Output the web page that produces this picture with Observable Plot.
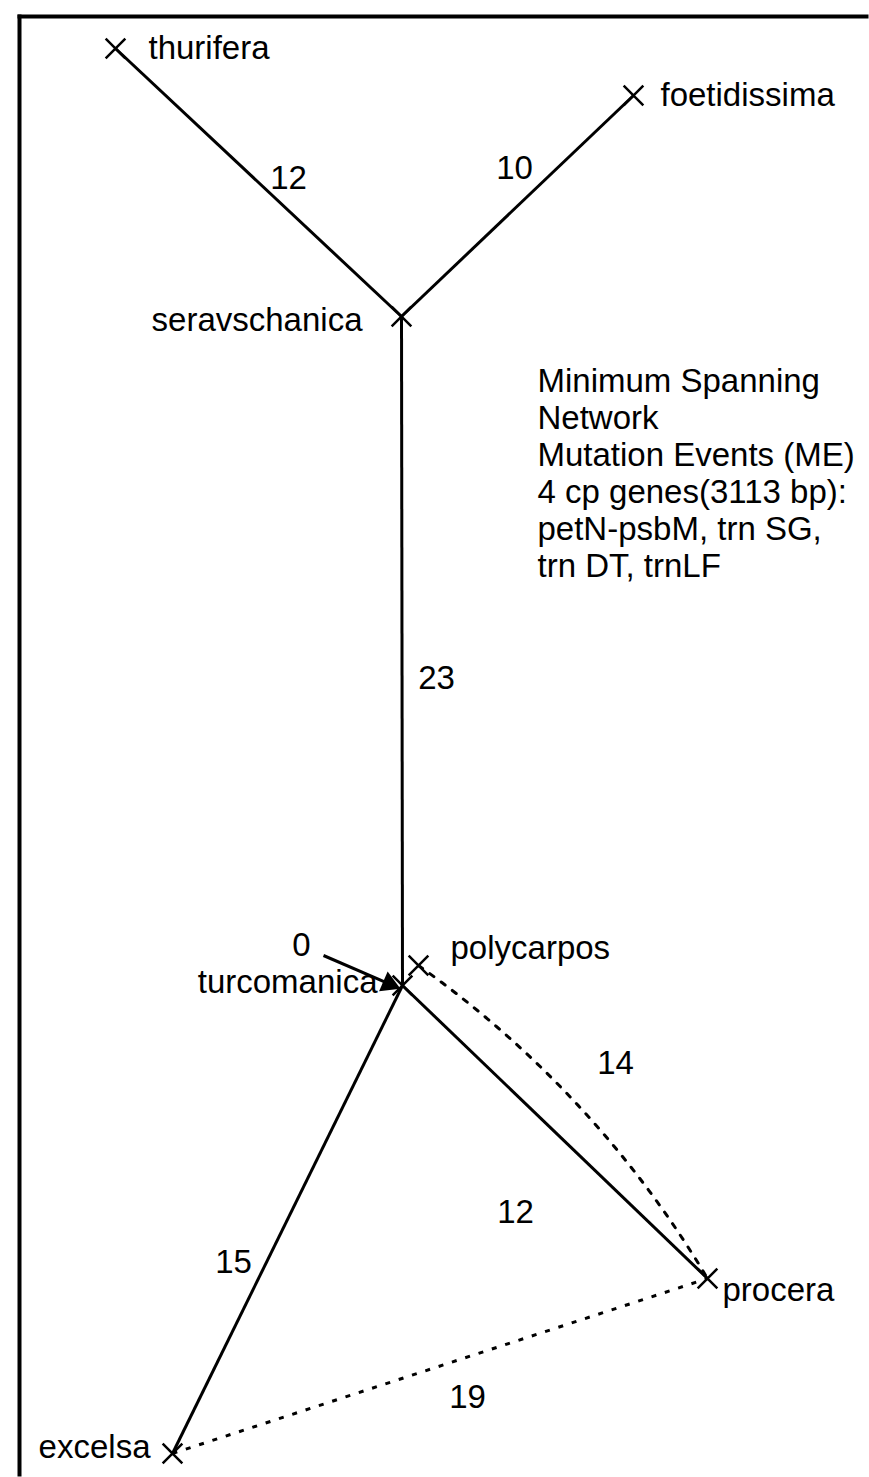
<!DOCTYPE html>
<html><head><meta charset="utf-8">
<script src="https://cdn.jsdelivr.net/npm/d3@7"></script>
<script src="https://cdn.jsdelivr.net/npm/@observablehq/plot@0.6"></script>
<style>html,body{margin:0;padding:0;background:#fff;overflow:hidden}svg{display:block}</style>
</head><body><div id="chart"></div>
<script>
// Nodes (layout coordinates)
const nodeNames = ["thurifera","foetidissima","seravschanica","turcomanica","polycarpos","procera","excelsa"];
const nodeX = [115, 633, 401, 402, 418, 707, 172];
const nodeY = [48, 95, 316, 985, 965, 1278, 1453];
const labelX = [148, 660, 362, 377, 450, 722, 150];
const labelY = [48, 95, 320, 982, 948, 1290, 1447];
const labelSide = ["right","right","left","left","right","right","left"];

// Edges: mutation events
const edgeFrom = ["thurifera","foetidissima","seravschanica","turcomanica","turcomanica","polycarpos","excelsa"];
const edgeTo   = ["seravschanica","seravschanica","turcomanica","procera","excelsa","procera","procera"];
const edgeME   = [12, 10, 23, 12, 15, 14, 19];
const edgeType = ["solid","solid","solid","solid","solid","dotted-curved","dotted"];
const edgeLabelX = [288, 514, 436, 515, 233, 615, 467];
const edgeLabelY = [178, 168, 678, 1212, 1262, 1063, 1397];

// Zero-distance pointer
const zeroLabel = "0";
const zeroX = 301, zeroY = 945;
const arrowFrom = [323, 955], arrowTo = [395, 986];

const noteLines = ["Minimum Spanning","Network","Mutation Events (ME)","4 cp genes(3113 bp):","petN-psbM, trn SG,","trn DT, trnLF"];
const noteX = 537, noteY = 365;

const idx = new Map(nodeNames.map((n,i)=>[n,i]));
const nodes = nodeNames.map((n,i)=>({name:n,x:nodeX[i],y:nodeY[i],lx:labelX[i],ly:labelY[i],side:labelSide[i]}));
const edges = edgeFrom.map((f,i)=>({x1:nodeX[idx.get(f)],y1:nodeY[idx.get(f)],x2:nodeX[idx.get(edgeTo[i])],y2:nodeY[idx.get(edgeTo[i])],me:edgeME[i],type:edgeType[i],lx:edgeLabelX[i],ly:edgeLabelY[i]}));

const W = 869, H = 1477;
const font = "Liberation Sans, Arial, sans-serif";
const fs = 33;
const ang = Math.atan2(arrowTo[1]-arrowFrom[1], arrowTo[0]-arrowFrom[0]);

const chart = Plot.plot({
  width: W, height: H,
  margin: 0,
  x: {domain:[0,W], range:[0,W], axis:null},
  y: {domain:[0,H], range:[0,H], axis:null},
  style: {fontFamily: font, background:"#fff"},
  marks: [
    Plot.link([0], {x1:17, y1:16, x2:W - 1, y2:16, stroke:"#000", strokeWidth:4}),
    Plot.link([0], {x1:19, y1:14, x2:19, y2:H - 1, stroke:"#000", strokeWidth:4}),
    Plot.link(edges.filter(e=>e.type==="solid"), {x1:"x1", y1:"y1", x2:"x2", y2:"y2", stroke:"#000", strokeWidth:3}),
    Plot.link(edges.filter(e=>e.type==="dotted"), {x1:"x1", y1:"y1", x2:"x2", y2:"y2", stroke:"#000", strokeWidth:3, strokeDasharray:"5,9"}),
    Plot.arrow(edges.filter(e=>e.type==="dotted-curved"), {x1:"x1", y1:"y1", x2:"x2", y2:"y2", bend:12, headLength:0, stroke:"#000", strokeWidth:3, strokeDasharray:"5,9"}),
    Plot.dot(nodes, {x:"x", y:"y", symbol:"times", r:9, stroke:"#000", strokeWidth:2.5}),
    Plot.text(nodes.filter(d=>d.side==="right"), {x:"lx", y:"ly", text:"name", textAnchor:"start", fontSize:fs, fill:"#000"}),
    Plot.text(nodes.filter(d=>d.side==="left"), {x:"lx", y:"ly", text:"name", textAnchor:"end", fontSize:fs, fill:"#000"}),
    Plot.text(edges, {x:"lx", y:"ly", text:"me", fontSize:fs, fill:"#000"}),
    Plot.text([zeroLabel], {x:zeroX, y:zeroY, text:d=>d, fontSize:fs, fill:"#000"}),
    Plot.link([0], {x1:arrowFrom[0], y1:arrowFrom[1], x2:arrowTo[0]-10*Math.cos(ang), y2:arrowTo[1]-10*Math.sin(ang), stroke:"#000", strokeWidth:3}),
    Plot.dot([0], {x:arrowTo[0]-7*Math.cos(ang), y:arrowTo[1]-7*Math.sin(ang), symbol:"triangle", r:8, fill:"#000", stroke:"none", rotate: 90 + ang*180/Math.PI}),
    Plot.text([noteLines.join("\n")], {x:noteX, y:noteY, text:d=>d, textAnchor:"start", lineAnchor:"top", lineHeight:1.12, fontSize:fs, fill:"#000"})
  ]
});
document.getElementById("chart").appendChild(chart);
</script>
</body></html>
